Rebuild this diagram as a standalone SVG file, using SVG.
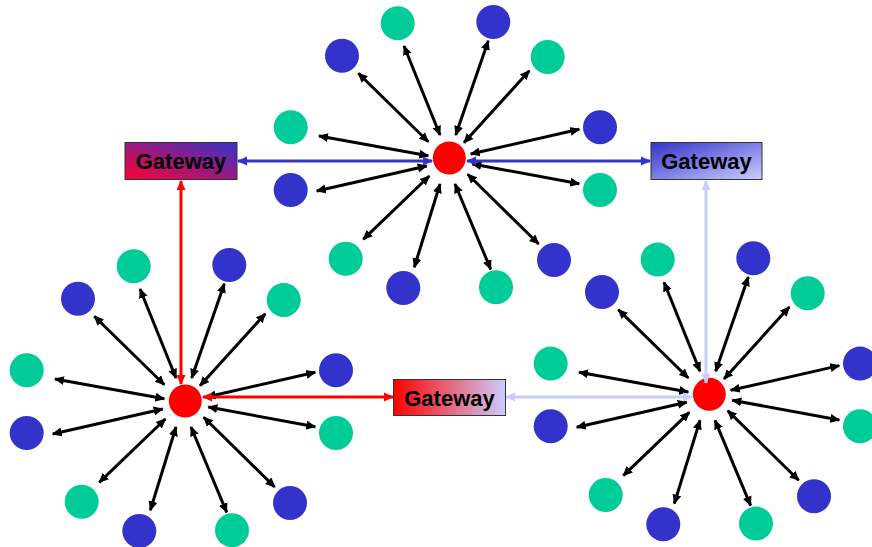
<svg xmlns="http://www.w3.org/2000/svg" width="872" height="547" viewBox="0 0 872 547">
<style>
.g{fill:#00cc99}.b{fill:#3333cc}.h{fill:#ff0000}
.k{stroke:#000;stroke-width:3;fill:none;marker-start:url(#mk);marker-end:url(#mk)}
.r{stroke:#ff0000;stroke-width:3;fill:none;marker-start:url(#mr);marker-end:url(#mr)}
.bl{stroke:#3333cc;stroke-width:3;fill:none;marker-start:url(#mb);marker-end:url(#mb)}
.lv{stroke:#ccccff;stroke-width:3;fill:none;marker-start:url(#ml);marker-end:url(#ml)}
.gw rect{stroke:#333;stroke-width:1}
.gw text{font-family:"Liberation Sans",Arial,sans-serif;font-weight:bold;font-size:22px;fill:#000;text-anchor:middle}
</style>
<defs>
<marker id="mk" viewBox="0 0 10 10" refX="9" refY="5" markerWidth="10" markerHeight="10" markerUnits="userSpaceOnUse" orient="auto-start-reverse"><path d="M0,0.5L10,5L0,9.5z" fill="#000"/></marker>
<marker id="mr" viewBox="0 0 10 10" refX="9" refY="5" markerWidth="10" markerHeight="10" markerUnits="userSpaceOnUse" orient="auto-start-reverse"><path d="M0,0.5L10,5L0,9.5z" fill="#ff0000"/></marker>
<marker id="mb" viewBox="0 0 10 10" refX="9" refY="5" markerWidth="10" markerHeight="10" markerUnits="userSpaceOnUse" orient="auto-start-reverse"><path d="M0,0.5L10,5L0,9.5z" fill="#3333cc"/></marker>
<marker id="ml" viewBox="0 0 10 10" refX="9" refY="5" markerWidth="10" markerHeight="10" markerUnits="userSpaceOnUse" orient="auto-start-reverse"><path d="M0,0.5L10,5L0,9.5z" fill="#ccccff"/></marker>
<linearGradient id="gr1" x1="0" y1="1" x2="1" y2="0"><stop offset="0" stop-color="#ff0033"/><stop offset="1" stop-color="#3333cc"/></linearGradient>
<linearGradient id="gr2" x1="0" y1="0" x2="1" y2="1"><stop offset="0" stop-color="#3333cc"/><stop offset="1" stop-color="#ccccff"/></linearGradient>
<linearGradient id="gr3" x1="0" y1="0" x2="1" y2="0"><stop offset="0" stop-color="#ff0000"/><stop offset="1" stop-color="#ccccff"/></linearGradient>
</defs>

<g id="nodes">
<g id="star-top" transform="translate(449.3,158)">
<circle id="top-hub" class="h" r="16.5"/>
<circle id="top-s1" class="g" cx="-51.6" cy="-134.7" r="17"/>
<circle id="top-s2" class="b" cx="44" cy="-136" r="17"/>
<circle id="top-s3" class="b" cx="-107.3" cy="-102.3" r="17"/>
<circle id="top-s4" class="g" cx="98.4" cy="-101" r="17"/>
<circle id="top-s5" class="g" cx="-158.6" cy="-30.7" r="17"/>
<circle id="top-s6" class="b" cx="150.7" cy="-30.7" r="17"/>
<circle id="top-s7" class="b" cx="-158.6" cy="32" r="17"/>
<circle id="top-s8" class="g" cx="150.7" cy="32" r="17"/>
<circle id="top-s9" class="g" cx="-103.6" cy="100.7" r="17"/>
<circle id="top-s10" class="b" cx="104.7" cy="102" r="17"/>
<circle id="top-s11" class="b" cx="-46" cy="130" r="17"/>
<circle id="top-s12" class="g" cx="46.7" cy="129.3" r="17"/>
</g>
<g id="star-left" transform="translate(185.3,401)">
<circle id="left-hub" class="h" r="16.5"/>
<circle id="left-s1" class="g" cx="-51.6" cy="-134.7" r="17"/>
<circle id="left-s2" class="b" cx="44" cy="-136" r="17"/>
<circle id="left-s3" class="b" cx="-107.3" cy="-102.3" r="17"/>
<circle id="left-s4" class="g" cx="98.4" cy="-101" r="17"/>
<circle id="left-s5" class="g" cx="-158.6" cy="-30.7" r="17"/>
<circle id="left-s6" class="b" cx="150.7" cy="-30.7" r="17"/>
<circle id="left-s7" class="b" cx="-158.6" cy="32" r="17"/>
<circle id="left-s8" class="g" cx="150.7" cy="32" r="17"/>
<circle id="left-s9" class="g" cx="-103.6" cy="100.7" r="17"/>
<circle id="left-s10" class="b" cx="104.7" cy="102" r="17"/>
<circle id="left-s11" class="b" cx="-46" cy="130" r="17"/>
<circle id="left-s12" class="g" cx="46.7" cy="129.3" r="17"/>
</g>
<g id="star-right" transform="translate(709.3,394.3)">
<circle id="right-hub" class="h" r="16.5"/>
<circle id="right-s1" class="g" cx="-51.6" cy="-134.7" r="17"/>
<circle id="right-s2" class="b" cx="44" cy="-136" r="17"/>
<circle id="right-s3" class="b" cx="-107.3" cy="-102.3" r="17"/>
<circle id="right-s4" class="g" cx="98.4" cy="-101" r="17"/>
<circle id="right-s5" class="g" cx="-158.6" cy="-30.7" r="17"/>
<circle id="right-s6" class="b" cx="150.7" cy="-30.7" r="17"/>
<circle id="right-s7" class="b" cx="-158.6" cy="32" r="17"/>
<circle id="right-s8" class="g" cx="150.7" cy="32" r="17"/>
<circle id="right-s9" class="g" cx="-103.6" cy="100.7" r="17"/>
<circle id="right-s10" class="b" cx="104.7" cy="102" r="17"/>
<circle id="right-s11" class="b" cx="-46" cy="130" r="17"/>
<circle id="right-s12" class="g" cx="46.7" cy="129.3" r="17"/>
</g>
</g>

<g id="connectors">
<g transform="translate(449.3,158)">
<path class="k" d="M-21,-16.3L-91,-84.7"/>
<path class="k" d="M-9.3,-23L-45.3,-112"/>
<path class="k" d="M6.4,-23L39,-117.3"/>
<path class="k" d="M14.7,-15.3L80,-87.3"/>
<path class="k" d="M-21,-2.3L-130.3,-22"/>
<path class="k" d="M21.4,-4L130,-28.7"/>
<path class="k" d="M-22.6,8L-132.6,33"/>
<path class="k" d="M23,6L130,25.7"/>
<path class="k" d="M-20,18L-86,81.3"/>
<path class="k" d="M-9.3,26L-35,109.3"/>
<path class="k" d="M5.7,26L41.4,111.3"/>
<path class="k" d="M18.4,16.3L89.4,86"/>
</g>
<g transform="translate(185.3,401)">
<path class="k" d="M-21,-16.3L-91,-84.7"/>
<path class="k" d="M-9.3,-23L-45.3,-112"/>
<path class="k" d="M6.4,-23L39,-117.3"/>
<path class="k" d="M14.7,-15.3L80,-87.3"/>
<path class="k" d="M-21,-2.3L-130.3,-22"/>
<path class="k" d="M21.4,-4L130,-28.7"/>
<path class="k" d="M-22.6,8L-132.6,33"/>
<path class="k" d="M23,6L130,25.7"/>
<path class="k" d="M-20,18L-86,81.3"/>
<path class="k" d="M-9.3,26L-35,109.3"/>
<path class="k" d="M5.7,26L41.4,111.3"/>
<path class="k" d="M18.4,16.3L89.4,86"/>
</g>
<g transform="translate(709.3,394.3)">
<path class="k" d="M-21,-16.3L-91,-84.7"/>
<path class="k" d="M-9.3,-23L-45.3,-112"/>
<path class="k" d="M6.4,-23L39,-117.3"/>
<path class="k" d="M14.7,-15.3L80,-87.3"/>
<path class="k" d="M-21,-2.3L-130.3,-22"/>
<path class="k" d="M21.4,-4L130,-28.7"/>
<path class="k" d="M-22.6,8L-132.6,33"/>
<path class="k" d="M23,6L130,25.7"/>
<path class="k" d="M-20,18L-86,81.3"/>
<path class="k" d="M-9.3,26L-35,109.3"/>
<path class="k" d="M5.7,26L41.4,111.3"/>
<path class="k" d="M18.4,16.3L89.4,86"/>
</g>
<path class="bl" d="M238,161L432,161"/>
<path class="bl" d="M467,161L650,161"/>
<path class="lv" d="M706,181L706,383"/>
<path class="lv" d="M506,397L692,397"/>
<path class="r" d="M181,181L181,384"/>
<path class="r" d="M203,397L393,397"/>
</g>

<g id="gateway-1" class="gw"><rect x="125" y="142.5" width="112" height="37" fill="url(#gr1)"/><text x="181" y="169">Gateway</text></g>
<g id="gateway-2" class="gw"><rect x="651" y="142.5" width="111" height="37" fill="url(#gr2)"/><text x="706.5" y="169">Gateway</text></g>
<g id="gateway-3" class="gw"><rect x="393.5" y="379.5" width="112" height="36" fill="url(#gr3)"/><text x="449.5" y="405.5">Gateway</text></g>
</svg>
